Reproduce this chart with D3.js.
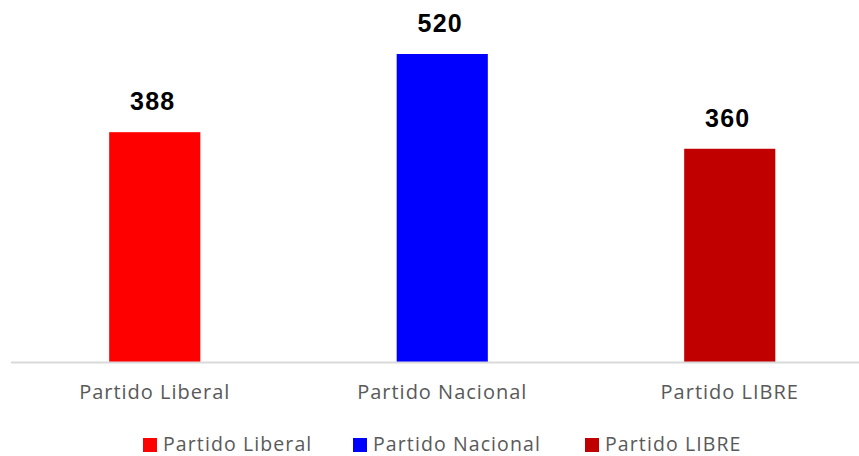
<!DOCTYPE html>
<html>
<head>
<meta charset="utf-8">
<script src="https://cdn.jsdelivr.net/npm/d3@7"></script>
<style>
  body { margin: 0; background: #fff; }
  svg { display: block; }
</style>
</head>
<body>
<div id="chart"></div>
<script>
var parties = ['Partido Liberal', 'Partido Nacional', 'Partido LIBRE'];
var seats = [388, 520, 360];
var colors = ['#ff0000', '#0000ff', '#c00000'];

var width = 859;
var height = 456;

var svg = d3.select('#chart')
    .append('svg')
    .attr('width', width)
    .attr('height', height);

var x = d3.scaleBand()
    .domain(parties)
    .range([11, 873.5])
    .paddingInner(0.683)
    .paddingOuter(0.3415);

var y = d3.scaleLinear()
    .domain([0, 600])
    .range([362, 6.6]);

// bars
svg.selectAll('rect.bar')
    .data(parties)
    .enter()
    .append('rect')
    .attr('class', 'bar')
    .attr('x', function(d) { return x(d); })
    .attr('y', function(d, i) { return y(seats[i]); })
    .attr('width', x.bandwidth())
    .attr('height', function(d, i) { return y(0) - y(seats[i]); })
    .style('fill', function(d, i) { return colors[i]; });

// value labels
svg.selectAll('text.value')
    .data(parties)
    .enter()
    .append('text')
    .attr('class', 'value')
    .attr('x', function(d) { return x(d) + x.bandwidth() / 2 - 2; })
    .attr('y', function(d, i) { return y(seats[i]) - 22; })
    .attr('text-anchor', 'middle')
    .style('font-family', '"Liberation Sans", Arial, sans-serif')
    .style('font-weight', 'bold')
    .style('font-size', '25px')
    .style('letter-spacing', '1.3px')
    .style('fill', '#000')
    .text(function(d, i) { return seats[i]; });

// x axis
var xAxis = svg.append('g')
    .attr('transform', 'translate(0,' + y(0) + ')')
    .call(d3.axisBottom(x).tickSize(0).tickPadding(23));

xAxis.select('.domain')
    .attr('d', 'M11,0.5H' + width)
    .style('stroke', '#d9d9d9')
    .style('stroke-width', 2);

xAxis.selectAll('text')
    .style('font-family', '"Open Sans", sans-serif')
    .style('font-size', '20px')
    .style('letter-spacing', '1px')
    .style('fill', '#595959');

// legend
var legendX = [143, 353, 585];
var legend = svg.selectAll('g.legend')
    .data(parties)
    .enter()
    .append('g')
    .attr('class', 'legend')
    .attr('transform', function(d, i) { return 'translate(' + legendX[i] + ',438)'; });

legend.append('rect')
    .attr('width', 14)
    .attr('height', 14)
    .style('fill', function(d, i) { return colors[i]; });

legend.append('text')
    .attr('x', 20)
    .attr('y', 13)
    .style('font-family', '"Open Sans", sans-serif')
    .style('font-size', '19.5px')
    .style('letter-spacing', '1.1px')
    .style('fill', '#595959')
    .text(function(d) { return d; });
</script>
</body>
</html>
